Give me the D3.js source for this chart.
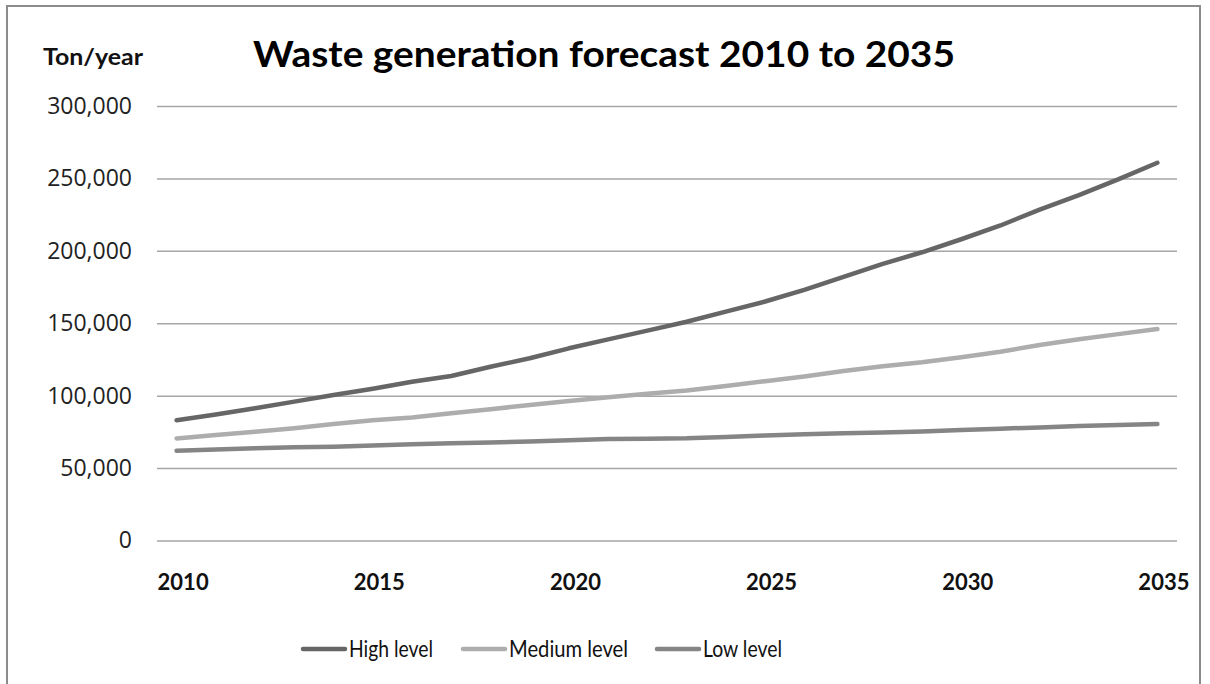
<!DOCTYPE html>
<html>
<head>
<meta charset="utf-8">
<script src="https://cdn.jsdelivr.net/npm/d3@7"></script>
<style>
  body { margin: 0; background: #fff; }
  svg { display: block; }
</style>
</head>
<body>
<div id="chart"></div>
<script>
/* Waste generation forecast, three scenarios */

const years = d3.range(2010, 2036);
const tickYears = [2010, 2015, 2020, 2025, 2030, 2035];
const yTicks = [0, 50000, 100000, 150000, 200000, 250000, 300000];

const highLevel = [83000, 87000, 91300, 95900, 100500, 104800, 109600, 113600, 120000, 125800,
                   132700, 138900, 144900, 151000, 158000, 165000, 173000, 182000, 191000, 199000,
                   208000, 217500, 228500, 238500, 249300, 260800];
const mediumLevel = [70500, 72800, 75100, 77500, 80400, 83000, 85000, 87800, 90600, 93600,
                     96300, 98900, 101300, 103500, 106700, 110000, 113300, 117000, 120300, 123000,
                     126500, 130300, 135000, 139000, 142500, 146000];
const lowLevel = [62000, 62900, 63700, 64300, 64800, 65600, 66400, 67200, 67600, 68400,
                  69300, 70000, 70300, 70600, 71500, 72500, 73300, 74100, 74600, 75300,
                  76300, 77200, 78100, 79000, 79800, 80400];

const seriesNames = ["High level", "Medium level", "Low level"];
const seriesColors = ["#666666", "#adadad", "#858585"];

const series = [highLevel, mediumLevel, lowLevel].map((vals, i) => ({
    name: seriesNames[i],
    color: seriesColors[i],
    values: vals.map((v, j) => ({ year: years[j], value: v }))
}));

const width = 1210,
      height = 684,
      margin = ({ top: 106, right: 33, bottom: 143.5, left: 157 });

let svg = d3.select("#chart")
    .append("svg")
    .attr("width", width)
    .attr("height", height);

// outer frame
svg.append("rect")
    .attr("x", 7).attr("y", 6)
    .attr("width", 1193).attr("height", 700)
    .attr("fill", "none")
    .attr("stroke", "#8c8c8c")
    .attr("stroke-width", 2);

let x = d3.scalePoint()
    .domain(years)
    .range([margin.left, width - margin.right])
    .padding(0.5);

let y = d3.scaleLinear()
    .domain([0, 300000])
    .range([height - margin.bottom, margin.top]);

// gridlines + y labels
let yAxis = svg.append("g")
    .attr("transform", `translate(${margin.left},0)`)
    .call(d3.axisLeft(y)
        .tickValues(yTicks)
        .tickSize(-(width - margin.right - margin.left))
        .tickPadding(25)
        .tickFormat(d3.format(",")));
yAxis.select(".domain").remove();
yAxis.selectAll(".tick line")
    .attr("stroke", "#a6a6a6")
    .attr("stroke-width", 1.5);
yAxis.selectAll(".tick text")
    .attr("font-family", "'Open Sans', sans-serif")
    .attr("font-size", 23)
    .attr("fill", "#222");

// x labels
let xAxis = svg.append("g")
    .attr("transform", `translate(0,${height - margin.bottom})`)
    .call(d3.axisBottom(x).tickValues(tickYears).tickSize(0));
xAxis.select(".domain").remove();
xAxis.selectAll(".tick text")
    .attr("font-family", "Lato, sans-serif")
    .attr("font-weight", "bold")
    .attr("font-size", 22)
    .attr("fill", "#111")
    .attr("dx", 6)
    .attr("y", 49)
    .attr("dy", 0);

// lines
let line = d3.line()
    .x(d => x(d.year))
    .y(d => y(d.value));

svg.selectAll(".series")
    .data(series)
    .join("path")
    .attr("class", "series")
    .attr("fill", "none")
    .attr("stroke", d => d.color)
    .attr("stroke-width", 4.5)
    .attr("stroke-linecap", "round")
    .attr("stroke-linejoin", "round")
    .attr("d", d => line(d.values));

// title and unit
svg.append("text")
    .text("Waste generation forecast 2010 to 2035")
    .attr("x", 253).attr("y", 67)
    .attr("textLength", 702)
    .attr("lengthAdjust", "spacingAndGlyphs")
    .attr("font-family", "Lato, sans-serif")
    .attr("font-weight", "bold")
    .attr("font-size", 37)
    .attr("fill", "#000");

svg.append("text")
    .text("Ton/year")
    .attr("x", 43).attr("y", 65)
    .attr("textLength", 100)
    .attr("lengthAdjust", "spacingAndGlyphs")
    .attr("font-family", "Lato, sans-serif")
    .attr("font-weight", "bold")
    .attr("font-size", 22)
    .attr("fill", "#111");

// legend (text squeezed to match the narrow original font)
const legendX = [303, 463, 657];
const legendTextW = [84, 119, 79];
let legend = svg.selectAll(".legend")
    .data(series)
    .join("g")
    .attr("class", "legend")
    .attr("transform", (d, i) => `translate(${legendX[i]},649)`);

legend.append("line")
    .attr("x1", 0).attr("x2", 42)
    .attr("stroke", d => d.color)
    .attr("stroke-width", 4.5)
    .attr("stroke-linecap", "round");

legend.append("text")
    .text(d => d.name)
    .attr("x", 46)
    .attr("y", 8)
    .attr("textLength", (d, i) => legendTextW[i])
    .attr("lengthAdjust", "spacingAndGlyphs")
    .attr("font-family", "Lato, sans-serif")
    .attr("font-size", 23)
    .attr("fill", "#111");
</script>
</body>
</html>
